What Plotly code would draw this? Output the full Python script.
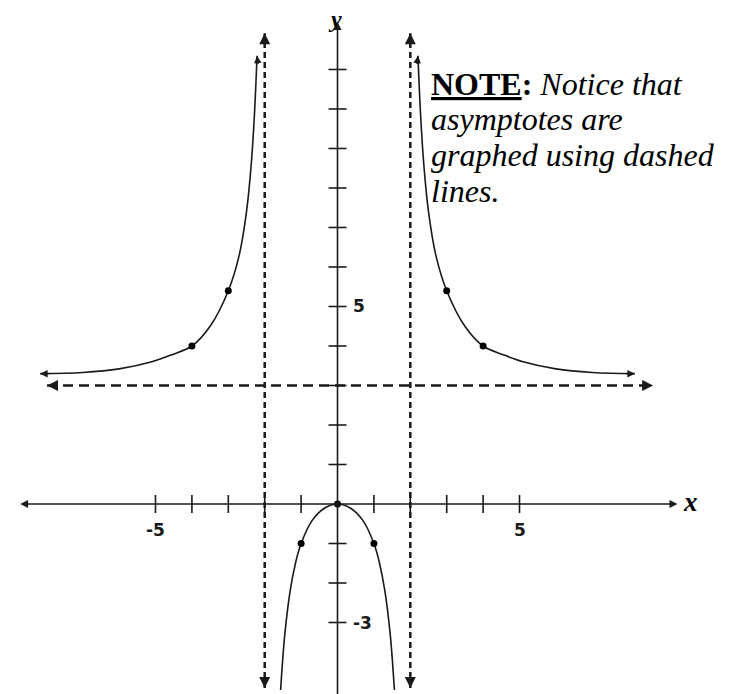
import plotly.graph_objects as go

# Graph of a rational function with two vertical asymptotes and one horizontal asymptote
VERT_ASYMPTOTES = [-2, 2]
HORIZ_ASYMPTOTE = 3

# Curve branches (x, y)
LEFT_X = [-8.17, -7.0, -6.0, -5.1, -4.55, -4.0, -3.5, -3.0, -2.7, -2.5, -2.37, -2.28, -2.21]
LEFT_Y = [3.3, 3.33, 3.42, 3.6, 3.78, 4.0, 4.5, 5.4, 6.3, 7.4, 8.6, 9.9, 11.35]
RIGHT_X = [2.21, 2.28, 2.37, 2.5, 2.7, 3.0, 3.5, 4.0, 4.55, 5.1, 6.0, 7.0, 8.17]
RIGHT_Y = [11.35, 9.9, 8.6, 7.4, 6.3, 5.4, 4.5, 4.0, 3.78, 3.6, 3.42, 3.33, 3.3]
MID_X = [-1.563, -1.45, -1.3, -1.15, -1.0, -0.7, -0.35, 0.0, 0.35, 0.7, 1.0, 1.15, 1.3, 1.45, 1.563]
MID_Y = [-4.71, -3.32, -2.19, -1.48, -1.0, -0.42, -0.1, 0.0, -0.1, -0.42, -1.0, -1.48, -2.19, -3.32, -4.71]

# Plotted points
PTS_X = [-4, -3, -1, 0, 1, 3, 4]
PTS_Y = [4.0, 5.4, -1.0, 0.0, -1.0, 5.4, 4.0]

# Axis tick marks and labels
X_TICKS = [-5, -4, -3, -2, -1, 1, 2, 3, 4, 5]
Y_TICKS = [-3, -2, -1, 1, 2, 3, 4, 5, 6, 7, 8, 9, 10, 11]
X_LABELS = {-5: "-5", 5: "5"}
Y_LABELS = {5: "5", -3: "-3"}

# Axis extents
X_AXIS_SPAN = (-8.76, 9.34)
Y_AXIS_SPAN = (-4.9, 12.2)
H_ASYM_SPAN = (-7.98, 8.67)
V_ASYM_SPAN = (-4.66, 11.92)

INK = "#1a1a1a"
W, H = 729, 694
X_RANGE = [-9.272, 10.755]
Y_RANGE = [-4.810, 12.759]

fig = go.Figure()

for bx, by in [(LEFT_X, LEFT_Y), (RIGHT_X, RIGHT_Y), (MID_X, MID_Y)]:
    fig.add_trace(go.Scatter(x=bx, y=by, mode="lines",
                             line=dict(color=INK, width=1.6, shape="spline", smoothing=1.0),
                             hoverinfo="skip"))

fig.add_trace(go.Scatter(x=PTS_X, y=PTS_Y, mode="markers",
                         marker=dict(color="black", size=7), hoverinfo="skip"))

shapes = []
annotations = []

# dashed asymptotes
shapes.append(dict(type="line", xref="x", yref="y",
                   x0=H_ASYM_SPAN[0], x1=H_ASYM_SPAN[1],
                   y0=HORIZ_ASYMPTOTE, y1=HORIZ_ASYMPTOTE,
                   line=dict(color=INK, width=2.5, dash="10px,6px")))
for va in VERT_ASYMPTOTES:
    shapes.append(dict(type="line", xref="x", yref="y", x0=va, x1=va,
                       y0=V_ASYM_SPAN[0], y1=V_ASYM_SPAN[1],
                       line=dict(color=INK, width=2.5, dash="6px,4px")))

# tick marks
for t in X_TICKS:
    shapes.append(dict(type="line", xref="x", yref="y", x0=t, x1=t,
                       ysizemode="pixel", yanchor=0, y0=-9, y1=9,
                       line=dict(color=INK, width=1.6)))
for t in Y_TICKS:
    shapes.append(dict(type="line", xref="x", yref="y", y0=t, y1=t,
                       xsizemode="pixel", xanchor=0, x0=-9, x1=9,
                       line=dict(color=INK, width=1.6)))


def arrow(x, y, ax, ay, width=1.5, size=1.0, head=2):
    annotations.append(dict(x=x, y=y, ax=ax, ay=ay, xref="x", yref="y",
                            text="", showarrow=True, arrowhead=head,
                            arrowsize=size, arrowwidth=width, arrowcolor=INK))


# axes with arrowheads
annotations.append(dict(x=X_AXIS_SPAN[1], y=0, ax=X_AXIS_SPAN[0], ay=0,
                        xref="x", yref="y", axref="x", ayref="y", text="",
                        showarrow=True, arrowhead=2, startarrowhead=2,
                        arrowside="end+start", arrowsize=1, startarrowsize=1,
                        arrowwidth=1.6, arrowcolor=INK))
annotations.append(dict(x=0, y=Y_AXIS_SPAN[1], ax=0, ay=Y_AXIS_SPAN[0],
                        xref="x", yref="y", axref="x", ayref="y", text="",
                        showarrow=True, arrowhead=2, arrowsize=1,
                        arrowwidth=1.6, arrowcolor=INK))

# arrowheads on asymptotes
arrow(H_ASYM_SPAN[0], HORIZ_ASYMPTOTE, 10, 0, width=2.2)
arrow(H_ASYM_SPAN[1], HORIZ_ASYMPTOTE, -10, 0, width=2.2)
for va in VERT_ASYMPTOTES:
    arrow(va, V_ASYM_SPAN[1], 0, 10, width=2.2)
    arrow(va, V_ASYM_SPAN[0], 0, -10, width=2.2)

# arrowheads on the curve ends
arrow(LEFT_X[0], LEFT_Y[0], 10, 0)
arrow(LEFT_X[-1], LEFT_Y[-1], 1, 10)
arrow(RIGHT_X[0], RIGHT_Y[0], -1, 10)
arrow(RIGHT_X[-1], RIGHT_Y[-1], -10, 0)

# tick labels
lab_font = dict(family="DejaVu Sans", size=17, color=INK)
for v, s in X_LABELS.items():
    annotations.append(dict(x=v, y=0, xref="x", yref="y", text=f"<b>{s}</b>",
                            showarrow=False, yshift=-26, font=lab_font))
for v, s in Y_LABELS.items():
    annotations.append(dict(x=0, y=v, xref="x", yref="y", text=f"<b>{s}</b>",
                            showarrow=False, xanchor="left", xshift=13, font=lab_font))

# axis names
name_font = dict(family="Liberation Serif", size=27, color="black")
annotations.append(dict(x=X_AXIS_SPAN[1], y=0, xref="x", yref="y",
                        text="<b><i>x</i></b>", showarrow=False,
                        xanchor="left", xshift=4, yshift=2, font=name_font))
annotations.append(dict(x=0, y=Y_AXIS_SPAN[1], xref="x", yref="y",
                        text="<b><i>y</i></b>", showarrow=False,
                        xshift=-3, yshift=3, font=dict(family="Liberation Serif",
                                                      size=24, color="black")))

# note text
note_font = dict(family="Liberation Serif", size=32, color="black")
note_lines = [
    "<b><u>NOTE</u>:</b> <i>Notice that</i>",
    "<i>asymptotes are</i>",
    "<i>graphed using dashed</i>",
    "<i>lines.</i>",
]
note_centers = [84, 119, 155, 191]
for txt, cy in zip(note_lines, note_centers):
    annotations.append(dict(x=429 / W, y=1 - cy / H, xref="paper", yref="paper",
                            text=txt, showarrow=False, xanchor="left",
                            yanchor="middle", font=note_font))

fig.update_layout(
    width=W, height=H,
    margin=dict(l=0, r=0, t=0, b=0),
    paper_bgcolor="white", plot_bgcolor="white",
    showlegend=False,
    xaxis=dict(range=X_RANGE, visible=False, fixedrange=True),
    yaxis=dict(range=Y_RANGE, visible=False, fixedrange=True),
    shapes=shapes, annotations=annotations,
)

fig.write_html("out.html")
